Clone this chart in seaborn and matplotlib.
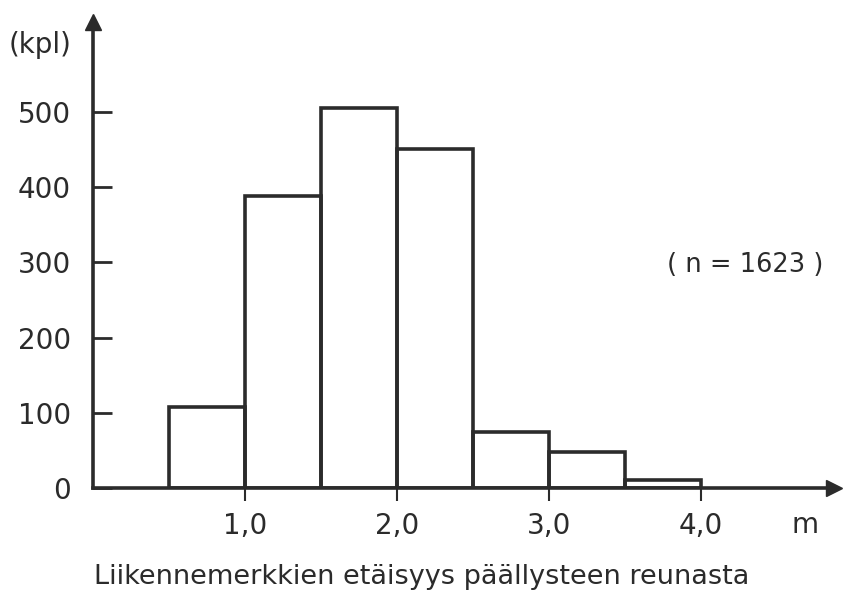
import numpy as np
import pandas as pd
import matplotlib
matplotlib.use("Agg")
import matplotlib.pyplot as plt
import seaborn as sns

# Data
bin_edges = [0.5, 1.0, 1.5, 2.0, 2.5, 3.0, 3.5, 4.0]
counts = [108, 388, 505, 451, 75, 48, 10]
x_ticks = [1.0, 2.0, 3.0, 4.0]
x_tick_labels = ["1,0", "2,0", "3,0", "4,0"]
y_ticks = [0, 100, 200, 300, 400, 500]
y_tick_labels = ["0", "100", "200", "300", "400", "500"]

sns.set_theme(style="white")
plt.rcParams["font.family"] = ["DejaVu Sans"]

ink = "#2b2b2b"
centers = [(a + b) / 2 for a, b in zip(bin_edges[:-1], bin_edges[1:])]
df = pd.DataFrame({"x": centers, "w": counts})

x0, xr, y0, yt = 93, 834, 488, 22
fig = plt.figure(figsize=(8.49, 5.96), dpi=100)
ax = fig.add_axes([x0 / 849, 1 - y0 / 596, (xr - x0) / 849, (y0 - yt) / 596])

sns.histplot(data=df, x="x", weights="w", bins=bin_edges, fill=False,
             element="bars", color=ink, linewidth=2.6, ax=ax)

ax.set_xlim(0, (xr - x0) / 152)
ax.set_ylim(0, (y0 - yt) / 0.752)

for s in ["top", "right"]:
    ax.spines[s].set_visible(False)
for s in ["left", "bottom"]:
    ax.spines[s].set_color(ink)
    ax.spines[s].set_linewidth(2.6)

# arrow heads
ax.plot(1, 0, marker=">", markersize=12, color=ink, transform=ax.transAxes, clip_on=False)
ax.plot(0, 1, marker="^", markersize=12, color=ink, transform=ax.transAxes, clip_on=False)

ax.set_xticks(x_ticks)
ax.set_xticklabels(x_tick_labels)
ax.set_yticks(y_ticks)
ax.set_yticklabels(y_tick_labels)
ax.tick_params(axis="y", direction="in", length=14, width=2, color=ink,
               labelsize=20, pad=16, labelcolor=ink, left=True)
ax.tick_params(axis="x", direction="out", length=9, width=1.5, color=ink,
               labelsize=20, pad=8, labelcolor=ink, bottom=True)
ax.set_xlabel("")
ax.set_ylabel("")
ax.grid(False)

fig.text(40 / 849, 1 - 45 / 596, "(kpl)", fontsize=20, color=ink, ha="center", va="center")
fig.text(805 / 849, 1 - 525 / 596, "m", fontsize=20, color=ink, ha="center", va="center")
fig.text(745 / 849, 1 - 265 / 596, "( n = 1623 )", fontsize=18.5, color=ink, ha="center", va="center")
fig.text(422 / 849, 1 - 577 / 596, "Liikennemerkkien etäisyys päällysteen reunasta",
         fontsize=19.5, color=ink, ha="center", va="center")

fig.savefig("out.png", dpi=100, facecolor="white")
